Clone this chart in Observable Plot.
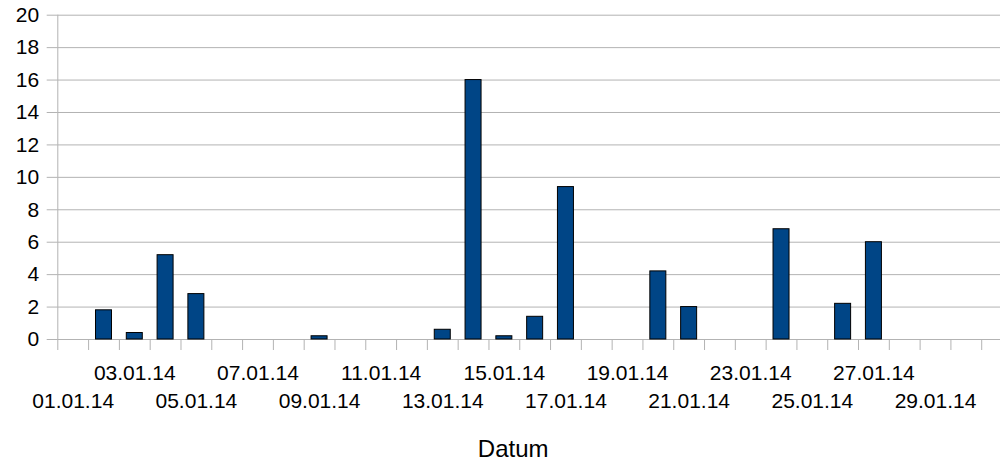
<!DOCTYPE html>
<html>
<head>
<meta charset="utf-8">
<script src="https://cdn.jsdelivr.net/npm/d3@7"></script>
<script src="https://cdn.jsdelivr.net/npm/@observablehq/plot@0.6"></script>
<style>
  html, body { margin: 0; padding: 0; background: #fff; overflow: hidden; width: 1000px; height: 464px; }
  #chart svg { display: block; max-width: none !important; }
</style>
</head>
<body>
<div id="chart"></div>
<script>
const days = ["01.01.14","02.01.14","03.01.14","04.01.14","05.01.14","06.01.14","07.01.14","08.01.14","09.01.14","10.01.14",
  "11.01.14","12.01.14","13.01.14","14.01.14","15.01.14","16.01.14","17.01.14","18.01.14","19.01.14","20.01.14",
  "21.01.14","22.01.14","23.01.14","24.01.14","25.01.14","26.01.14","27.01.14","28.01.14","29.01.14","30.01.14","31.01.14"];
const values = [0,1.8,0.4,5.2,2.8,0,0,0,0.2,0,0,0,0.6,16,0.2,1.4,9.4,0,0,4.2,2.0,0,0,6.8,0,2.2,6.0,0,0,0,0];
const upperLabels = ["03.01.14","07.01.14","11.01.14","15.01.14","19.01.14","23.01.14","27.01.14"];
const lowerLabels = ["01.01.14","05.01.14","09.01.14","13.01.14","17.01.14","21.01.14","25.01.14","29.01.14"];
const yTicks = [0,2,4,6,8,10,12,14,16,18,20];
const axisTitle = "Datum";

const data = days.map((day, i) => ({i, day, v: values[i]}));
const center = label => days.indexOf(label) + 0.5;
const boundaries = d3.range(0, days.length + 1);
const grid = "#b3b3b3";

const chart = Plot.plot({
  width: 1013,
  height: 464,
  marginLeft: 57.3,
  marginRight: 1,
  marginTop: 14.7,
  marginBottom: 125,
  style: {fontFamily: "'Liberation Sans', Arial, sans-serif", fontSize: "21px", color: "#000", background: "#fff", maxWidth: "none"},
  x: {domain: [0, days.length], axis: null},
  y: {domain: [0, 20], axis: null},
  marks: [
    Plot.gridY(yTicks, {stroke: grid, strokeOpacity: 1}),
    Plot.ruleX([0], {y1: 0, y2: 20, stroke: grid}),
    Plot.axisX(boundaries, {tickSize: 11, tickFormat: () => "", stroke: grid, label: null}),
    Plot.axisY(yTicks, {tickSize: 10.6, tickPadding: 8, stroke: grid, fill: "#000", fontSize: 21, label: null}),
    Plot.rectY(data.filter(d => d.v > 0), {
      x1: "i", x2: d => d.i + 1, y1: 0, y2: "v",
      insetLeft: 7.4, insetRight: 7.4,
      fill: "#004586", stroke: "#000", strokeWidth: 1
    }),
    Plot.axisX(upperLabels.map(center), {tickSize: 0, tickPadding: 26, tickFormat: v => days[v - 0.5], fill: "#000", fontSize: 21, label: null}),
    Plot.axisX(lowerLabels.map(center), {tickSize: 0, tickPadding: 54, tickFormat: v => days[v - 0.5], fill: "#000", fontSize: 21, label: null}),
    Plot.text([axisTitle], {frameAnchor: "bottom", dx: -22, dy: 117, lineAnchor: "bottom", fontSize: 24, fill: "#000"})
  ]
});
document.getElementById("chart").appendChild(chart);
</script>
</body>
</html>
